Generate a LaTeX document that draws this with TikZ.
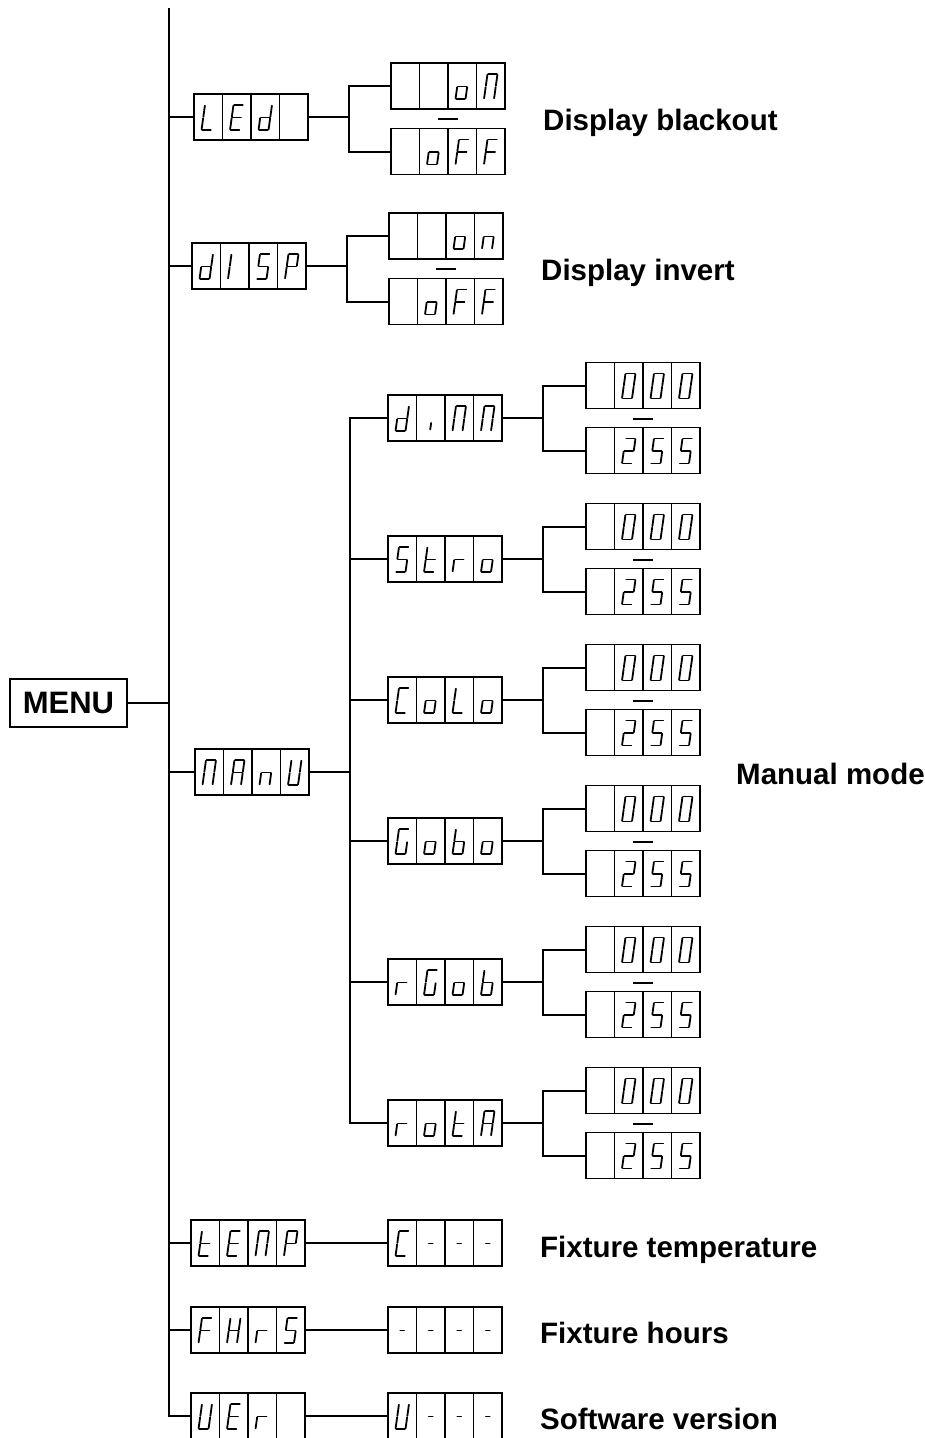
\documentclass[tikz,border=0pt]{standalone}
\usepackage{fontspec}
\setmainfont{Liberation Sans}
\tikzset{
  conn/.style={line width=2pt},
  dbox/.style={draw, line width=1.7pt, minimum width=114pt, minimum height=46pt, inner sep=0pt, outer sep=0pt},
  cellline/.style={line width=1.5pt},
  segline/.style={line width=1.8pt, line cap=round, line join=round},
  dashmark/.style={line width=2pt},
  lab/.style={font=\fontsize{29.5}{34}\selectfont\bfseries, anchor=base west, inner sep=0pt},
}
% seven segment pieces (local coords, y downwards)
\expandafter\def\csname sv-a\endcsname{\draw[segline] (-4.3,-12.5) -- (4.3,-12.5);}
\expandafter\def\csname sv-b\endcsname{\draw[segline] (5,-11.8) -- (5,-0.7);}
\expandafter\def\csname sv-c\endcsname{\draw[segline] (5,0.7) -- (5,11.8);}
\expandafter\def\csname sv-d\endcsname{\draw[segline] (-4.3,12.5) -- (4.3,12.5);}
\expandafter\def\csname sv-e\endcsname{\draw[segline] (-5,0.7) -- (-5,11.8);}
\expandafter\def\csname sv-f\endcsname{\draw[segline] (-5,-11.8) -- (-5,-0.7);}
\expandafter\def\csname sv-g\endcsname{\draw[segline] (-4.3,0) -- (4.3,0);}
\expandafter\def\csname sv-h\endcsname{\draw[segline] (-2,0) -- (2,0);}
\expandafter\def\csname sv-i\endcsname{\draw[segline] (1,4.5) -- (1,11);}
\newcommand\sevchar[3]{%
  \begin{scope}[shift={(#1,#2)},xslant=0.14]
    \foreach \s in {#3}{\csname sv-\s\endcsname}
  \end{scope}}
\newcommand\dispbox[7]{% name, left x, centre y, four cells
  \node[dbox] (#1) at ({#2+57},{#3}) {};
  \draw[cellline] ({#2+28.5},{#3-23}) -- ({#2+28.5},{#3+23})
                  ({#2+57},{#3-23}) -- ({#2+57},{#3+23})
                  ({#2+85.5},{#3-23}) -- ({#2+85.5},{#3+23});
  \sevchar{#2+14.25}{#3+0.5}{#4}
  \sevchar{#2+42.75}{#3+0.5}{#5}
  \sevchar{#2+71.25}{#3+0.5}{#6}
  \sevchar{#2+99.75}{#3+0.5}{#7}}
\newcommand\manrow[6]{% name, row y, four cells
  \dispbox{#1}{388}{#2}{#3}{#4}{#5}{#6}
  \dispbox{#1lo}{586}{#2-32.5}{}{a,b,c,d,e,f}{a,b,c,d,e,f}{a,b,c,d,e,f}
  \dispbox{#1hi}{586}{#2+32.5}{}{a,b,d,e,g}{a,c,d,f,g}{a,c,d,f,g}
  \coordinate (#1j) at (543,{#2});
  \draw[conn] (#1.east) -- (#1j);
  \draw[conn] (#1lo.west) -| (#1j) |- (#1hi.west);
  \coordinate (#1dash) at (643,{#2+0.5});
  \draw[dashmark] ([xshift=-10pt]#1dash) -- ([xshift=10pt]#1dash);}
\begin{document}
\begin{tikzpicture}[x=1pt,y=-1pt]
\useasboundingbox (0,0) rectangle (925,1438);
\fill[white] (0,0) rectangle (925,1438);

% main column
\node[draw, line width=2pt, minimum width=117pt, minimum height=48pt, inner sep=0pt,
      font=\fontsize{31}{34}\selectfont\bfseries] (menu) at (68.5,703) {MENU};
\coordinate (top) at (169,8);
\coordinate (bot) at (169,1416);

% level 1 boxes
\dispbox{led}{194}{117}{d,e,f}{a,d,e,f,g}{b,c,d,e,g}{}
\dispbox{disp}{192}{266}{b,c,d,e,g}{e,f}{a,c,d,f,g}{a,b,e,f,g}
\dispbox{manu}{195}{772}{a,b,c,e,f}{a,b,c,e,f,g}{c,e,g}{b,c,d,e,f}
\dispbox{temp}{191}{1243}{d,e,f,g}{a,d,e,f,g}{a,b,c,e,f}{a,b,e,f,g}
\dispbox{fhrs}{191}{1330}{a,e,f,g}{b,c,e,f,g}{e,g}{a,c,d,f,g}
\dispbox{ver}{191}{1416}{b,c,d,e,f}{a,d,e,f,g}{e,g}{}

\draw[conn] (top) -- (bot) -- (ver.west);
\draw[conn] (menu.east) -- (menu.east -| top);
\foreach \n in {led,disp,manu,temp,fhrs}{\draw[conn] (\n.west) -- (\n.west -| top);}

% LEd branch
\dispbox{ledon}{391}{86}{}{}{c,d,e,g}{a,b,c,e,f}
\dispbox{ledoff}{391}{151.5}{}{c,d,e,g}{a,e,f,g}{a,e,f,g}
\coordinate (ledj) at (349,117);
\draw[conn] (led.east) -- (ledj);
\draw[conn] (ledon.west) -| (ledj) |- (ledoff.west);
\coordinate (leddash) at (448,119);
\draw[dashmark] ([xshift=-10pt]leddash) -- ([xshift=10pt]leddash);

% dISP branch
\dispbox{dispon}{389}{236}{}{}{c,d,e,g}{c,e,g}
\dispbox{dispoff}{389}{301.5}{}{c,d,e,g}{a,e,f,g}{a,e,f,g}
\coordinate (dispj) at (347,266);
\draw[conn] (disp.east) -- (dispj);
\draw[conn] (dispon.west) -| (dispj) |- (dispoff.west);
\coordinate (dispdash) at (446,269);
\draw[dashmark] ([xshift=-10pt]dispdash) -- ([xshift=10pt]dispdash);

% manual sub menu
\manrow{dimm}{418}{b,c,d,e,g}{i}{a,b,c,e,f}{a,b,c,e,f}
\manrow{stro}{559}{a,c,d,f,g}{d,e,f,g}{e,g}{c,d,e,g}
\manrow{colo}{700}{a,d,e,f}{c,d,e,g}{d,e,f}{c,d,e,g}
\manrow{gobo}{841}{a,c,d,e,f}{c,d,e,g}{c,d,e,f,g}{c,d,e,g}
\manrow{rgob}{982}{e,g}{a,c,d,e,f}{c,d,e,g}{c,d,e,f,g}
\manrow{rota}{1123}{e,g}{c,d,e,g}{d,e,f,g}{a,b,c,e,f,g}
\coordinate (mvtop) at (350,418);
\coordinate (mvbot) at (350,1123);
\draw[conn] (dimm.west) -- (mvtop) -- (mvbot) -- (rota.west);
\foreach \n in {stro,colo,gobo,rgob}{\draw[conn] (\n.west) -- (\n.west -| mvtop);}
\draw[conn] (manu.east) -- (manu.east -| mvtop);

% info rows
\dispbox{tempv}{388}{1243}{a,d,e,f}{h}{h}{h}
\dispbox{fhrsv}{388}{1330}{h}{h}{h}{h}
\dispbox{verv}{388}{1416}{b,c,d,e,f}{h}{h}{h}
\draw[conn] (temp.east) -- (tempv.west);
\draw[conn] (fhrs.east) -- (fhrsv.west);
\draw[conn] (ver.east) -- (verv.west);

% labels
\node[lab] (l1) at (543,130) {Display blackout};
\node[lab] (l2) at (541,280) {Display invert};
\node[lab] (l3) at (736,784) {Manual mode};
\node[lab] (l4) at (540,1257) {Fixture temperature};
\node[lab] (l5) at (540,1343) {Fixture hours};
\node[lab] (l6) at (540,1429) {Software version};
\end{tikzpicture}
\end{document}
